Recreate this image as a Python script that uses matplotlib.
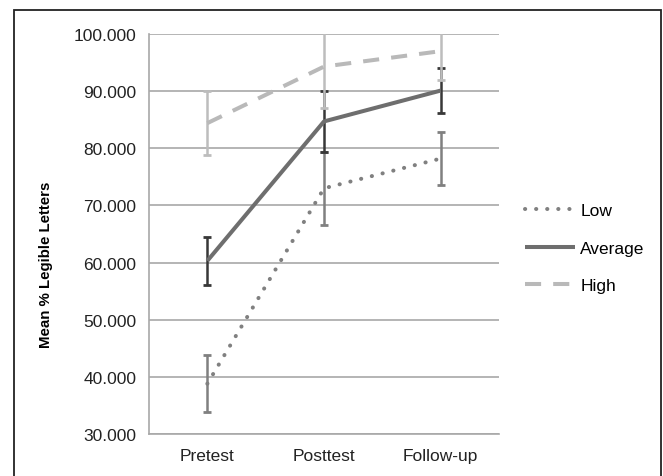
import matplotlib

matplotlib.use("Agg")

import matplotlib.pyplot as plt
from matplotlib.patches import Rectangle

plt.rcParams["font.family"] = ["Liberation Sans", "DejaVu Sans"]

phases = ["Pretest", "Posttest", "Follow-up"]
groups = ["Low", "Average", "High"]

low_mean = [38.8, 73.0, 78.2]
low_err = [5.0, 6.4, 4.6]
avg_mean = [60.3, 84.7, 90.1]
avg_err = [4.2, 5.3, 3.9]
high_mean = [84.4, 94.3, 97.0]
high_err = [5.6, 7.3, 5.1]

yticks = [30, 40, 50, 60, 70, 80, 90, 100]

series = [
    (low_mean, low_err, "#808080", "#808080", (0, (0.05, 2.7)), "round"),
    (avg_mean, avg_err, "#6e6e6e", "#383838", "-", "butt"),
    (high_mean, high_err, "#b9b9b9", "#bdbdbd", (0, (4.0, 3.0)), "butt"),
]

fig = plt.figure(figsize=(6.63, 4.77), dpi=100)
ax = fig.add_axes([149 / 663, 1 - 435 / 477, 350 / 663, 400 / 477])

x = list(range(len(phases)))
handles = []
for (mean, err, line_color, err_color, ls, cap), name in zip(series, groups):
    ax.errorbar(x, mean, yerr=err, fmt="none", ecolor=err_color, elinewidth=1.8,
                capsize=3, capthick=2.0, zorder=3)
    (line,) = ax.plot(x, mean, color=line_color, linestyle=ls, linewidth=2.9,
                      dash_capstyle=cap, solid_capstyle="butt", label=name, zorder=4)
    handles.append(line)

ax.set_xlim(-0.5, 2.5)
ax.set_ylim(30, 100)
ax.set_yticks(yticks)
ax.set_yticklabels([f"{v:.3f}" for v in yticks])
ax.set_xticks(x)
ax.set_xticklabels(phases)
ax.tick_params(axis="both", length=0, labelsize=12.5, colors="#222222")
ax.tick_params(axis="y", pad=9)
ax.tick_params(axis="x", pad=10)
ax.grid(axis="y", color="#a8a8a8", linewidth=1.2, zorder=0)
ax.set_axisbelow(True)
for side in ["top", "right"]:
    ax.spines[side].set_visible(False)
for side in ["left", "bottom"]:
    ax.spines[side].set_color("#a8a8a8")
    ax.spines[side].set_linewidth(1.2)

ax.set_ylabel("Mean % Legible Letters", fontsize=10.8, fontweight="bold")
ax.yaxis.set_label_coords(-0.275, 0.425)

fig.legend(handles=handles, loc="center left", bbox_to_anchor=(509 / 663, 1 - 249 / 477),
           frameon=False, fontsize=12.5, handlelength=2.9, handletextpad=0.3,
           labelspacing=1.3)

fig.patches.append(Rectangle((14 / 663, -0.1), 647 / 663, 1.1 - 11 / 477,
                             transform=fig.transFigure, fill=False,
                             edgecolor="#222222", linewidth=1.3))

fig.savefig("out.png", dpi=100)
